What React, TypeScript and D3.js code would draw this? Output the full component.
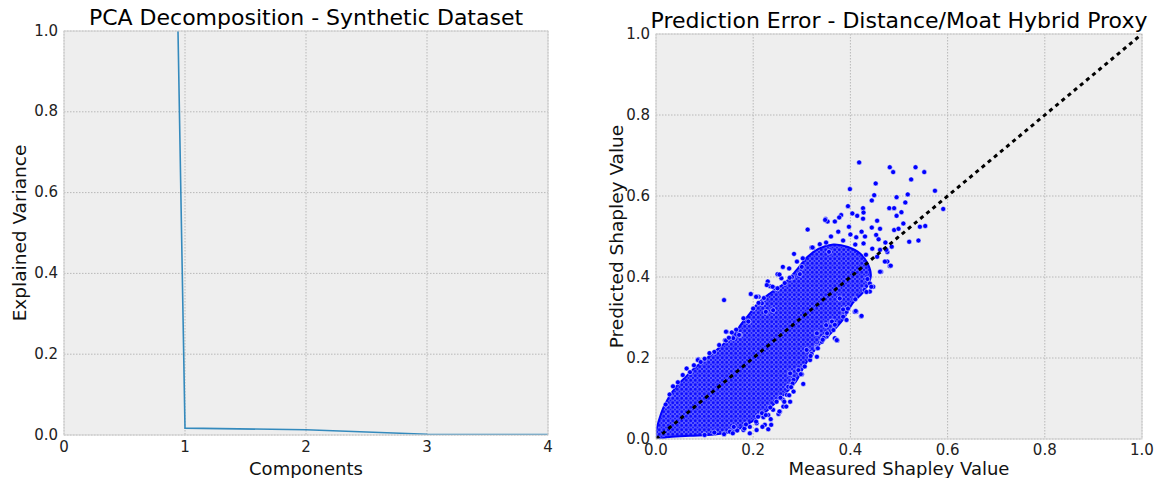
import React from 'react';
import * as d3 from "d3";

// constants
const width = 1158;
const height = 478;
const font = "DejaVu Sans, sans-serif";

// left panel data
const components = [0, 1, 2, 3, 4];
const explainedVariance = [17.0, 0.017, 0.013, 0.002, 0.001];
const pcaXTicks = [0, 1, 2, 3, 4];
const unitTicks = [0, 0.2, 0.4, 0.6, 0.8, 1.0];

// right panel: outline of the dense core of the scatter [measured, predicted]
const coreOutline = [
  [0.001, 0.002], [0.012, 0.068], [0.025, 0.100], [0.040, 0.127], [0.060, 0.152],
  [0.080, 0.176], [0.100, 0.195], [0.118, 0.213], [0.140, 0.236], [0.160, 0.257],
  [0.175, 0.283], [0.190, 0.305], [0.210, 0.335], [0.235, 0.360], [0.265, 0.385],
  [0.290, 0.418], [0.312, 0.450], [0.335, 0.470], [0.365, 0.480], [0.395, 0.474],
  [0.420, 0.458], [0.436, 0.432], [0.442, 0.402], [0.430, 0.368], [0.405, 0.336],
  [0.385, 0.295], [0.355, 0.255], [0.330, 0.225], [0.305, 0.180], [0.288, 0.142],
  [0.268, 0.115], [0.246, 0.090], [0.225, 0.066], [0.197, 0.043], [0.162, 0.020],
  [0.120, 0.011], [0.070, 0.008], [0.027, 0.005],
];

// right panel: individual points outside the core
const scatterPoints = [
  [0.418, 0.683], [0.481, 0.671], [0.488, 0.659], [0.534, 0.671], [0.552, 0.659],
  [0.452, 0.631], [0.525, 0.641], [0.399, 0.617], [0.574, 0.613], [0.449, 0.602],
  [0.518, 0.604], [0.495, 0.597], [0.444, 0.589], [0.513, 0.584], [0.395, 0.575],
  [0.426, 0.570], [0.480, 0.570], [0.490, 0.570], [0.591, 0.568], [0.505, 0.560],
  [0.404, 0.557], [0.427, 0.559], [0.381, 0.553], [0.377, 0.547], [0.349, 0.543],
  [0.353, 0.537], [0.368, 0.537], [0.414, 0.551], [0.426, 0.544], [0.455, 0.539],
  [0.495, 0.551], [0.397, 0.524], [0.444, 0.522], [0.461, 0.519], [0.509, 0.532],
  [0.543, 0.524], [0.554, 0.526], [0.312, 0.517], [0.490, 0.516], [0.499, 0.519],
  [0.521, 0.487], [0.540, 0.490], [0.476, 0.462], [0.423, 0.512], [0.453, 0.504],
  [0.412, 0.498], [0.458, 0.493], [0.427, 0.483], [0.323, 0.472], [0.472, 0.485],
  [0.485, 0.475], [0.461, 0.467], [0.284, 0.457], [0.140, 0.343], [0.195, 0.358],
  [0.211, 0.351], [0.230, 0.389], [0.235, 0.377], [0.250, 0.407], [0.261, 0.425],
  [0.274, 0.421], [0.296, 0.407], [0.290, 0.438], [0.258, 0.397], [0.245, 0.372],
  [0.320, 0.473], [0.337, 0.481], [0.356, 0.462], [0.412, 0.314], [0.422, 0.303],
  [0.145, 0.265], [0.156, 0.263], [0.159, 0.249], [0.142, 0.244], [0.476, 0.438],
  [0.481, 0.427], [0.463, 0.413], [0.440, 0.384], [0.429, 0.368], [0.440, 0.364],
  [0.373, 0.243], [0.331, 0.228], [0.087, 0.197], [0.303, 0.136], [0.283, 0.117],
  [0.269, 0.109], [0.259, 0.100], [0.276, 0.092], [0.248, 0.092], [0.262, 0.080],
  [0.241, 0.072], [0.252, 0.062], [0.231, 0.059], [0.221, 0.054], [0.236, 0.049],
  [0.224, 0.035], [0.231, 0.024], [0.207, 0.039], [0.193, 0.030], [0.180, 0.022],
  [0.167, 0.021], [0.152, 0.018], [0.193, 0.014], [0.207, 0.022], [0.293, 0.170],
  [0.310, 0.220], [0.331, 0.224], [0.351, 0.253], [0.368, 0.249], [0.331, 0.261],
  [0.272, 0.129], [0.173, 0.257], [0.207, 0.351], [0.063, 0.174], [0.348, 0.541],
  [0.423, 0.304], [0.409, 0.314], [0.392, 0.294], [0.372, 0.245], [0.341, 0.240],
  [0.461, 0.413], [0.447, 0.376], [0.474, 0.467], [0.483, 0.428],
  [0.471, 0.438], [0.430, 0.500], [0.445, 0.470], [0.455, 0.450], [0.400, 0.505],
  [0.375, 0.512], [0.360, 0.500], [0.300, 0.425], [0.280, 0.400], [0.218, 0.335],
  [0.211, 0.336], [0.228, 0.380], [0.240, 0.376], [0.254, 0.406], [0.302, 0.446],
  [0.322, 0.473], [0.226, 0.314], [0.241, 0.318], [0.333, 0.224], [0.352, 0.261],
  [0.372, 0.244], [0.365, 0.269], [0.385, 0.302], [0.392, 0.314], [0.411, 0.316],
  [0.268, 0.080], [0.255, 0.068], [0.218, 0.064], [0.262, 0.096], [0.283, 0.146],
  [0.276, 0.162], [0.306, 0.179], [0.317, 0.195], [0.331, 0.203], [0.350, 0.281],
  [0.362, 0.290], [0.378, 0.347], [0.433, 0.363], [0.443, 0.376], [0.206, 0.351],
  [0.144, 0.265], [0.171, 0.257], [0.144, 0.243], [0.086, 0.195], [0.237, 0.035],
  [0.206, 0.043], [0.182, 0.026], [0.158, 0.014], [0.264, 0.092], [0.274, 0.108],
  [0.281, 0.137], [0.254, 0.068], [0.226, 0.059], [0.219, 0.030], [0.120, 0.215],
  [0.100, 0.198], [0.070, 0.165], [0.045, 0.140], [0.028, 0.110], [0.020, 0.085],
  [0.160, 0.030], [0.120, 0.016], [0.300, 0.160], [0.320, 0.210], [0.345, 0.250],
  [0.385, 0.320], [0.410, 0.345], [0.435, 0.395], [0.265, 0.385], [0.190, 0.290],
  [0.110, 0.212], [0.130, 0.232], [0.150, 0.250], [0.165, 0.270], [0.180, 0.298],
  [0.200, 0.322], [0.222, 0.348], [0.250, 0.372], [0.275, 0.398], [0.055, 0.158],
  [0.035, 0.130], [0.092, 0.190], [0.078, 0.182], [0.395, 0.322], [0.368, 0.282],
  [0.343, 0.245], [0.318, 0.205], [0.298, 0.160], [0.278, 0.128], [0.256, 0.102],
  [0.235, 0.078], [0.210, 0.055], [0.185, 0.036], [0.140, 0.012], [0.100, 0.010],
  [0.350, 0.485], [0.385, 0.490], [0.410, 0.480], [0.432, 0.455],
];
const diagonal = [0, 1];

// panel boxes
const leftBox = { x0: 64, x1: 548, y0: 31, y1: 435, yLabelX: 26, tickDy: 17 };
const rightBox = { x0: 656, x1: 1142, y0: 34, y1: 439, yLabelX: 623, tickDy: 16 };
const xLabelY = 475;

const Panel = ({ box, xScale, yScale, xTicks, xFmt, yTicks, title, xLabel, yLabel, clipId, children }) => (
  <g>
    <rect x={box.x0} y={box.y0} width={box.x1 - box.x0} height={box.y1 - box.y0} fill="#eeeeee" />
    {xTicks.map(t => (
      <line key={'gx' + t} x1={xScale(t)} x2={xScale(t)} y1={box.y0} y2={box.y1}
        stroke="#b8b8b8" strokeDasharray="1.5,1.5" strokeWidth={1} />
    ))}
    {yTicks.map(t => (
      <line key={'gy' + t} x1={box.x0} x2={box.x1} y1={yScale(t)} y2={yScale(t)}
        stroke="#b8b8b8" strokeDasharray="1.5,1.5" strokeWidth={1} />
    ))}
    <clipPath id={clipId}>
      <rect x={box.x0} y={box.y0} width={box.x1 - box.x0} height={box.y1 - box.y0} />
    </clipPath>
    <g clipPath={`url(#${clipId})`}>{children}</g>
    <rect x={box.x0} y={box.y0} width={box.x1 - box.x0} height={box.y1 - box.y0}
      fill="none" stroke="#d0d0d0" strokeWidth={1} />
    {xTicks.map(t => (
      <text key={'tx' + t} x={xScale(t)} y={box.y1 + box.tickDy} textAnchor="middle"
        fontFamily={font} fontSize={15} fill="#222">{xFmt(t)}</text>
    ))}
    {yTicks.map(t => (
      <text key={'ty' + t} x={box.x0 - 6} y={yScale(t) + 4.5} textAnchor="end"
        fontFamily={font} fontSize={15} fill="#222">{d3.format(".1f")(t)}</text>
    ))}
    <text x={(box.x0 + box.x1) / 2} y={box.y0 - 6} textAnchor="middle"
      fontFamily={font} fontSize={22} fill="#000">{title}</text>
    <text x={(box.x0 + box.x1) / 2} y={xLabelY} textAnchor="middle"
      fontFamily={font} fontSize={18} fill="#111">{xLabel}</text>
    <text transform={`translate(${box.yLabelX},${(box.y0 + box.y1) / 2}) rotate(-90)`}
      textAnchor="middle" fontFamily={font} fontSize={18.5} fill="#111">{yLabel}</text>
  </g>
);

const App = () => {
  // scales for the PCA panel
  const xPca = d3.scaleLinear().domain([0, 4]).range([leftBox.x0, leftBox.x1]);
  const yPca = d3.scaleLinear().domain([0, 1]).range([leftBox.y1, leftBox.y0]);
  const pcaLine = d3.line<number>()
    .x((d, i) => xPca(components[i]))
    .y(d => yPca(d));

  // scales for the prediction panel
  const xMeas = d3.scaleLinear().domain([0, 1]).range([rightBox.x0, rightBox.x1]);
  const yPred = d3.scaleLinear().domain([0, 1]).range([rightBox.y1, rightBox.y0]);
  const corePath = d3.line<number[]>()
    .x(d => xMeas(d[0]))
    .y(d => yPred(d[1]))
    .curve(d3.curveCatmullRomClosed.alpha(0.5));

  return (
    <svg width={width} height={height} style={{ position: 'absolute', left: 0, top: 0, background: '#fff' }}>
      <defs>
        <pattern id="dots" width={4.5} height={4.5} patternUnits="userSpaceOnUse">
          <rect width={4.5} height={4.5} fill="#0000ff" />
          <circle cx={2.25} cy={2.25} r={2} fill="#0a0aff" stroke="#ffffff" strokeWidth={0.6} strokeOpacity={0.6} />
        </pattern>
      </defs>

      <Panel box={leftBox} xScale={xPca} yScale={yPca} xTicks={pcaXTicks} xFmt={d => String(d)}
        yTicks={unitTicks} title="PCA Decomposition - Synthetic Dataset"
        xLabel="Components" yLabel="Explained Variance" clipId="clipL">
        <path d={pcaLine(explainedVariance)} fill="none" stroke="#348ABD" strokeWidth={1.6} />
      </Panel>

      <Panel box={rightBox} xScale={xMeas} yScale={yPred} xTicks={unitTicks} xFmt={d3.format(".1f")}
        yTicks={unitTicks} title="Prediction Error - Distance/Moat Hybrid Proxy"
        xLabel="Measured Shapley Value" yLabel="Predicted Shapley Value" clipId="clipR">
        <path d={corePath(coreOutline)} fill="url(#dots)" stroke="#0000ff" strokeWidth={2} />
        {scatterPoints.map((p, i) => (
          <circle key={i} cx={xMeas(p[0])} cy={yPred(p[1])} r={2.5}
            fill="#0000ff" stroke="#ffffff" strokeWidth={0.5} />
        ))}
        <line x1={xMeas(diagonal[0])} y1={yPred(diagonal[0])} x2={xMeas(diagonal[1])} y2={yPred(diagonal[1])}
          stroke="#000" strokeWidth={3} strokeDasharray="4,4" />
      </Panel>
    </svg>
  );
};

export default App;
